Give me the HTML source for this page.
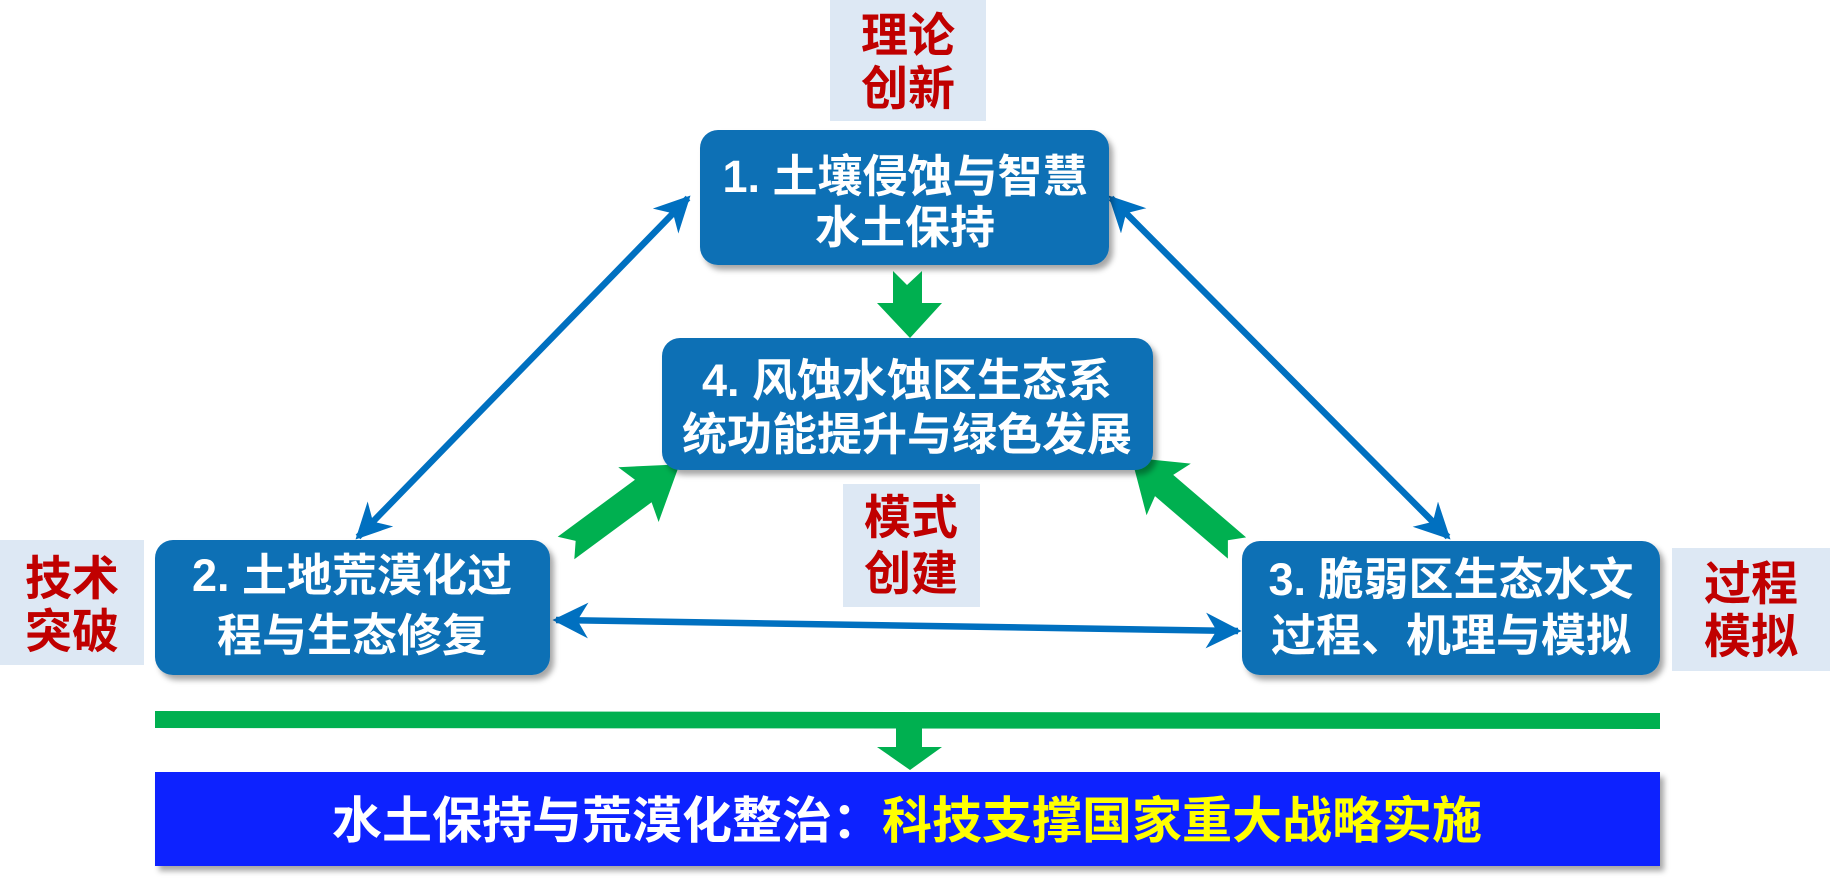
<!DOCTYPE html>
<html><head><meta charset="utf-8"><style>
html,body{margin:0;padding:0;background:#fff;}
svg{display:block;}
text{font-family:"Liberation Sans","Noto Sans CJK SC",sans-serif;font-weight:bold;}
</style></head><body>
<svg width="1830" height="878" viewBox="0 0 1830 878" xmlns="http://www.w3.org/2000/svg">
<defs>
<filter id="sh" x="-10%" y="-10%" width="130%" height="140%"><feDropShadow dx="4" dy="5" stdDeviation="3" flood-color="#000" flood-opacity="0.35"/></filter>
<marker id="ah" viewBox="0 0 20 20" refX="18" refY="10" markerWidth="5.5" markerHeight="5.5" orient="auto-start-reverse" markerUnits="strokeWidth">
<path d="M0,0 L20,10 L0,20 L6,10 Z" fill="#0070c0"/></marker>
</defs>
<rect x="830" y="0" width="156" height="121" fill="#dde8f4"/>
<rect x="843" y="484" width="137" height="123" fill="#dde8f4"/>
<rect x="0" y="540" width="144" height="125" fill="#dde8f4"/>
<rect x="1672" y="548" width="158" height="123" fill="#dde8f4"/>
<g fill="#c00000" font-size="47" text-anchor="middle">
<text x="908" y="52">理论</text><text x="908" y="105">创新</text>
<text x="911" y="534">模式</text><text x="911" y="590">创建</text>
<text x="72" y="595">技术</text><text x="72" y="648">突破</text>
<text x="1751" y="600">过程</text><text x="1751" y="653">模拟</text>
</g>
<g stroke="#0070c0" stroke-width="6.5" fill="none">
<line x1="688" y1="198" x2="358" y2="537" marker-start="url(#ah)" marker-end="url(#ah)"/>
<line x1="1111" y1="198" x2="1448" y2="537" marker-start="url(#ah)" marker-end="url(#ah)"/>
<line x1="556" y1="620" x2="1238" y2="631" marker-start="url(#ah)" marker-end="url(#ah)"/>
</g>
<g fill="#00b050">
<polygon points="893,271 907,285 922,271 922,303 942,303 910,338 877,303 893,303"/>
<g transform="translate(566,548) rotate(-36.4)">
<polygon points="0,-14 96,-14 90,-34 141,0 90,34 96,14 0,14 12,0"/>
</g>
<g transform="translate(1237,548) rotate(-139.4)">
<polygon points="0,-14 96,-14 90,-34 139,0 90,34 96,14 0,14 12,0"/>
</g>
<polygon points="155,711 1660,713 1660,729 155,728"/>
<polygon points="896,728 922,728 922,747 942,747 910,770 877,747 896,747"/>
</g>
<g fill="#1170b5" filter="url(#sh)">
<rect x="700" y="130" width="409" height="135" rx="18"/>
<rect x="662" y="338" width="491" height="132" rx="18"/>
<rect x="155" y="540" width="395" height="135" rx="18"/>
<rect x="1242" y="541" width="418" height="134" rx="18"/>
</g>
<rect x="155" y="772" width="1505" height="94" fill="#0a24ff" filter="url(#sh)"/>
<g fill="#fff" font-size="45" text-anchor="middle">
<text x="905" y="192">1. 土壤侵蚀与智慧</text><text x="905" y="243">水土保持</text>
<text x="907" y="396">4. 风蚀水蚀区生态系</text><text x="907" y="450">统功能提升与绿色发展</text>
<text x="352" y="591">2. 土地荒漠化过</text><text x="352" y="651">程与生态修复</text>
<text x="1451" y="595">3. 脆弱区生态水文</text><text x="1451" y="651">过程、机理与模拟</text>
</g>
<text x="907" y="838" font-size="50" text-anchor="middle" fill="#fff">水土保持与荒漠化整治：<tspan fill="#ffff00">科技支撑国家重大战略实施</tspan></text>
</svg>
</body></html>
